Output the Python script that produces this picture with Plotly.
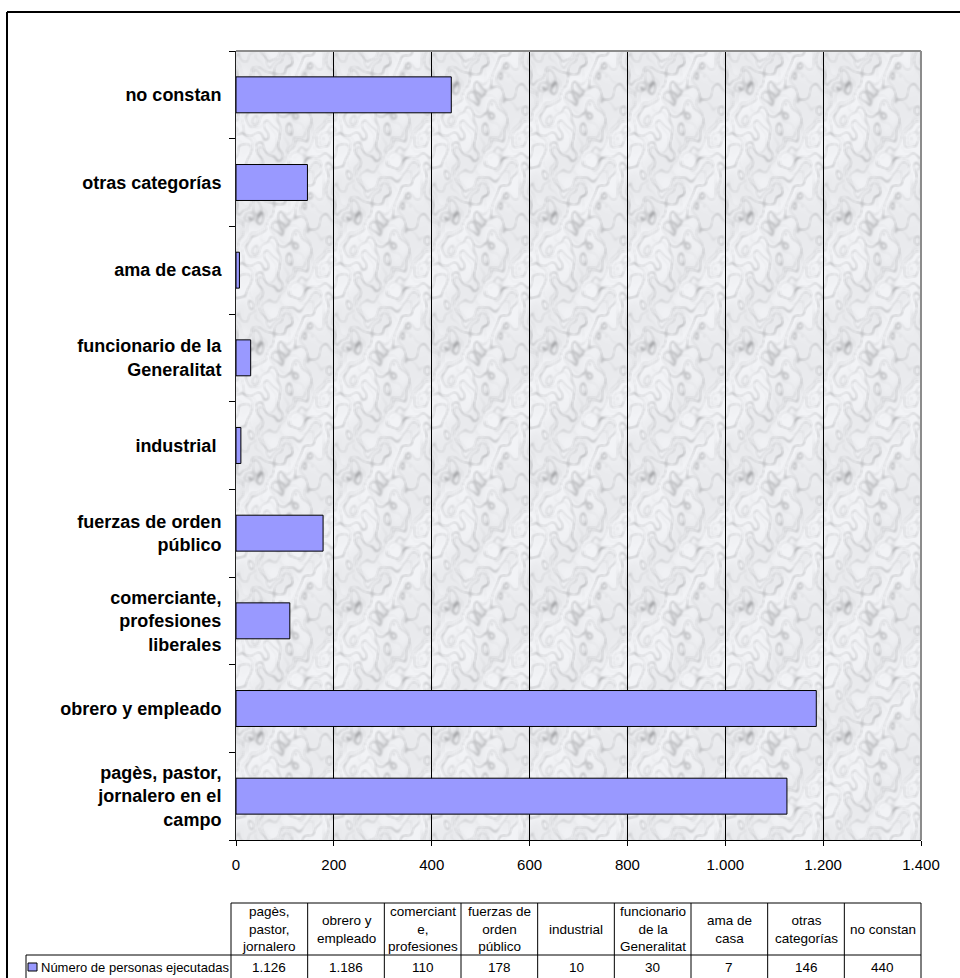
import math
import base64
import struct
import zlib

import numpy as np
import plotly.graph_objects as go

# ---- data -------------------------------------------------------------
categories = [
    "pagès, pastor, jornalero en el campo",
    "obrero y empleado",
    "comerciante, profesiones liberales",
    "fuerzas de orden público",
    "industrial",
    "funcionario de la Generalitat",
    "ama de casa",
    "otras categorías",
    "no constan",
]
axis_labels = [
    "pagès, pastor,<br>jornalero en el<br>campo",
    "obrero y empleado",
    "comerciante,<br>profesiones<br>liberales",
    "fuerzas de orden<br>público",
    "industrial ",
    "funcionario de la<br>Generalitat",
    "ama de casa",
    "otras categorías",
    "no constan",
]
table_headers = [
    "pagès,<br>pastor,<br>jornalero",
    "obrero y<br>empleado",
    "comerciant<br>e,<br>profesiones",
    "fuerzas de<br>orden<br>público",
    "industrial",
    "funcionario<br>de la<br>Generalitat",
    "ama de<br>casa",
    "otras<br>categorías",
    "no constan",
]
values = [1126, 1186, 110, 178, 10, 30, 7, 146, 440]
series_name = "Número de personas ejecutadas"
x_ticks = [0, 200, 400, 600, 800, 1000, 1200, 1400]

# ---- geometry (pixels) ------------------------------------------------
FIG_W, FIG_H = 960, 978
PL, PR, PT, PB = 236, 921, 51, 840          # plot area edges
PW, PH = PR - PL, PB - PT
BAR_COLOR = "#9999FF"
FONT = "Arial, Liberation Sans, sans-serif"


def px2x(p):
    return (p - PL) / PW


def py2y(p):
    return (PB - p) / PH


# ---- marble texture for the plot background ---------------------------
def periodic_blur(a, r):
    out = np.zeros_like(a)
    cnt = 0
    for dy in range(-r, r + 1):
        for dx in range(-r, r + 1):
            out += np.roll(np.roll(a, dy, axis=0), dx, axis=1)
            cnt += 1
    return out / cnt


def marble_tile(w, h):
    yy, xx = np.mgrid[0:h, 0:w].astype(float)
    u = 2 * math.pi * xx / w
    v = 2 * math.pi * yy / h
    turb = (0.9 * np.sin(u + 2 * v + 0.3) + 0.6 * np.sin(3 * u - v + 1.7)
            + 0.4 * np.sin(2 * u + 3 * v + 2.9) + 0.25 * np.sin(5 * u + 4 * v + 0.8)
            + 0.2 * np.sin(-4 * u + 6 * v + 4.1) + 0.12 * np.sin(7 * u - 5 * v + 2.2))
    v1 = np.sin(u - v + 2.0 * turb)
    v2 = np.sin(2 * u + v + 1.6 * turb + 1.0)
    v3 = np.sin(3 * u - 2 * v + 1.3 * turb + 2.4)
    dark = (0.60 * np.exp(-(v1 / 0.16) ** 2) + 0.40 * np.exp(-(v2 / 0.12) ** 2)
            + 0.20 * np.exp(-(v3 / 0.10) ** 2))
    cloud = 0.5 + 0.5 * np.sin(u + v + turb)
    inten = 245 - 72 * np.clip(dark, 0, 1) - 10 * cloud
    inten = periodic_blur(inten, 1)
    rgb = np.stack([inten - 2, inten - 1, inten + 2], axis=-1)
    return np.clip(rgb, 0, 255).astype(np.uint8)


def png_data_uri(rgb):
    h, w, _ = rgb.shape
    raw = b"".join(b"\x00" + rgb[i].tobytes() for i in range(h))

    def chunk(tag, data):
        return (struct.pack(">I", len(data)) + tag + data
                + struct.pack(">I", zlib.crc32(tag + data) & 0xFFFFFFFF))

    png = (b"\x89PNG\r\n\x1a\n"
           + chunk(b"IHDR", struct.pack(">IIBBBBB", w, h, 8, 2, 0, 0, 0))
           + chunk(b"IDAT", zlib.compress(raw, 9))
           + chunk(b"IEND", b""))
    return "data:image/png;base64," + base64.b64encode(png).decode()


tile = marble_tile(98, 130)
texture = np.tile(tile, (math.ceil(PH / 130), math.ceil(PW / 98), 1))[:PH, :PW]

# ---- figure -----------------------------------------------------------
fig = go.Figure(
    go.Bar(
        y=categories,
        x=values,
        orientation="h",
        marker=dict(color=BAR_COLOR, line=dict(color="#000000", width=1)),
        hoverinfo="x+y",
        showlegend=False,
    )
)

fig.update_layout(
    width=FIG_W,
    height=FIG_H,
    margin=dict(l=PL, r=FIG_W - PR, t=PT, b=FIG_H - PB, pad=0),
    paper_bgcolor="#FFFFFF",
    plot_bgcolor="#ECECEF",
    separators=",.",
    bargap=0.59,
    font=dict(family=FONT, color="#000000"),
    images=[dict(
        source=png_data_uri(texture),
        xref="paper", yref="paper", x=0, y=1, sizex=1, sizey=1,
        xanchor="left", yanchor="top", sizing="stretch", layer="below",
    )],
)

fig.update_xaxes(
    range=[0, 1400],
    tickvals=x_ticks,
    tickformat=",d",
    showgrid=True, gridcolor="#000000", gridwidth=1,
    zeroline=False,
    showline=True, linecolor="#000000", linewidth=1,
    ticks="outside", ticklen=5, tickcolor="#000000",
    tickfont=dict(family=FONT, size=15, color="#000000"),
    ticklabelstandoff=6,
    fixedrange=True,
)
fig.update_yaxes(
    type="category",
    categoryorder="array", categoryarray=categories,
    tickvals=categories, ticktext=axis_labels,
    tickson="boundaries",
    ticks="outside", ticklen=6, tickcolor="#000000",
    showline=True, linecolor="#222222", linewidth=1,
    showgrid=False,
    tickfont=dict(family=FONT, size=18, color="#000000", weight="bold"),
    ticklabelstandoff=10,
    fixedrange=True,
)

shapes = []
annotations = []

# grey frame on the top and right edges of the plot area
shapes.append(dict(type="line", xref="paper", yref="paper", x0=0, x1=1, y0=1, y1=1,
                   line=dict(color="#8C8C8C", width=2)))
shapes.append(dict(type="line", xref="paper", yref="paper", x0=1, x1=1, y0=0, y1=1,
                   line=dict(color="#8C8C8C", width=2)))

# outer chart border
shapes.append(dict(type="line", xref="paper", yref="paper",
                   x0=px2x(7), x1=px2x(FIG_W + 10), y0=py2y(12), y1=py2y(12),
                   line=dict(color="#000000", width=2)))
shapes.append(dict(type="line", xref="paper", yref="paper",
                   x0=px2x(7), x1=px2x(7), y0=py2y(12), y1=py2y(FIG_H + 10),
                   line=dict(color="#000000", width=2)))

# ---- data table under the chart ---------------------------------------
T_LEFT, T_RIGHT = 231, 921
HDR_TOP, ROW_TOP, ROW_BOT = 903, 955, 979
KEY_LEFT = 26
n = len(values)
col_w = (T_RIGHT - T_LEFT) / n
line_style = dict(color="#000000", width=1)

# horizontal rules
shapes.append(dict(type="line", xref="paper", yref="paper",
                   x0=px2x(T_LEFT), x1=px2x(T_RIGHT), y0=py2y(HDR_TOP), y1=py2y(HDR_TOP),
                   line=line_style))
for yy in (ROW_TOP, ROW_BOT):
    shapes.append(dict(type="line", xref="paper", yref="paper",
                       x0=px2x(KEY_LEFT), x1=px2x(T_RIGHT), y0=py2y(yy), y1=py2y(yy),
                       line=line_style))
# vertical rules
shapes.append(dict(type="line", xref="paper", yref="paper",
                   x0=px2x(KEY_LEFT), x1=px2x(KEY_LEFT), y0=py2y(ROW_TOP), y1=py2y(ROW_BOT),
                   line=line_style))
for i in range(n + 1):
    xx = T_LEFT + i * col_w
    shapes.append(dict(type="line", xref="paper", yref="paper",
                       x0=px2x(xx), x1=px2x(xx), y0=py2y(HDR_TOP), y1=py2y(ROW_BOT),
                       line=line_style))

# header labels and values
for i, (hdr, val) in enumerate(zip(table_headers, values)):
    cx = px2x(T_LEFT + (i + 0.5) * col_w)
    annotations.append(dict(
        text=hdr, x=cx, y=py2y((HDR_TOP + ROW_TOP) / 2), xref="paper", yref="paper",
        showarrow=False, xanchor="center", yanchor="middle", align="center",
        font=dict(family=FONT, size=13.5, color="#000000"),
    ))
    annotations.append(dict(
        text=f"{val:,}".replace(",", "."), x=cx, y=py2y((ROW_TOP + ROW_BOT) / 2),
        xref="paper", yref="paper",
        showarrow=False, xanchor="center", yanchor="middle",
        font=dict(family=FONT, size=13.5, color="#000000"),
    ))

# legend key in the table
shapes.append(dict(type="rect", xref="paper", yref="paper",
                   x0=px2x(28), x1=px2x(37), y0=py2y(963), y1=py2y(971),
                   fillcolor=BAR_COLOR, line=dict(color="#000000", width=1)))
annotations.append(dict(
    text=series_name, x=px2x(39), y=py2y(967), xref="paper", yref="paper",
    showarrow=False, xanchor="left", yanchor="middle",
    font=dict(family=FONT, size=13, color="#000000"),
))

fig.update_layout(shapes=shapes, annotations=annotations)

fig.write_html("out.html")
